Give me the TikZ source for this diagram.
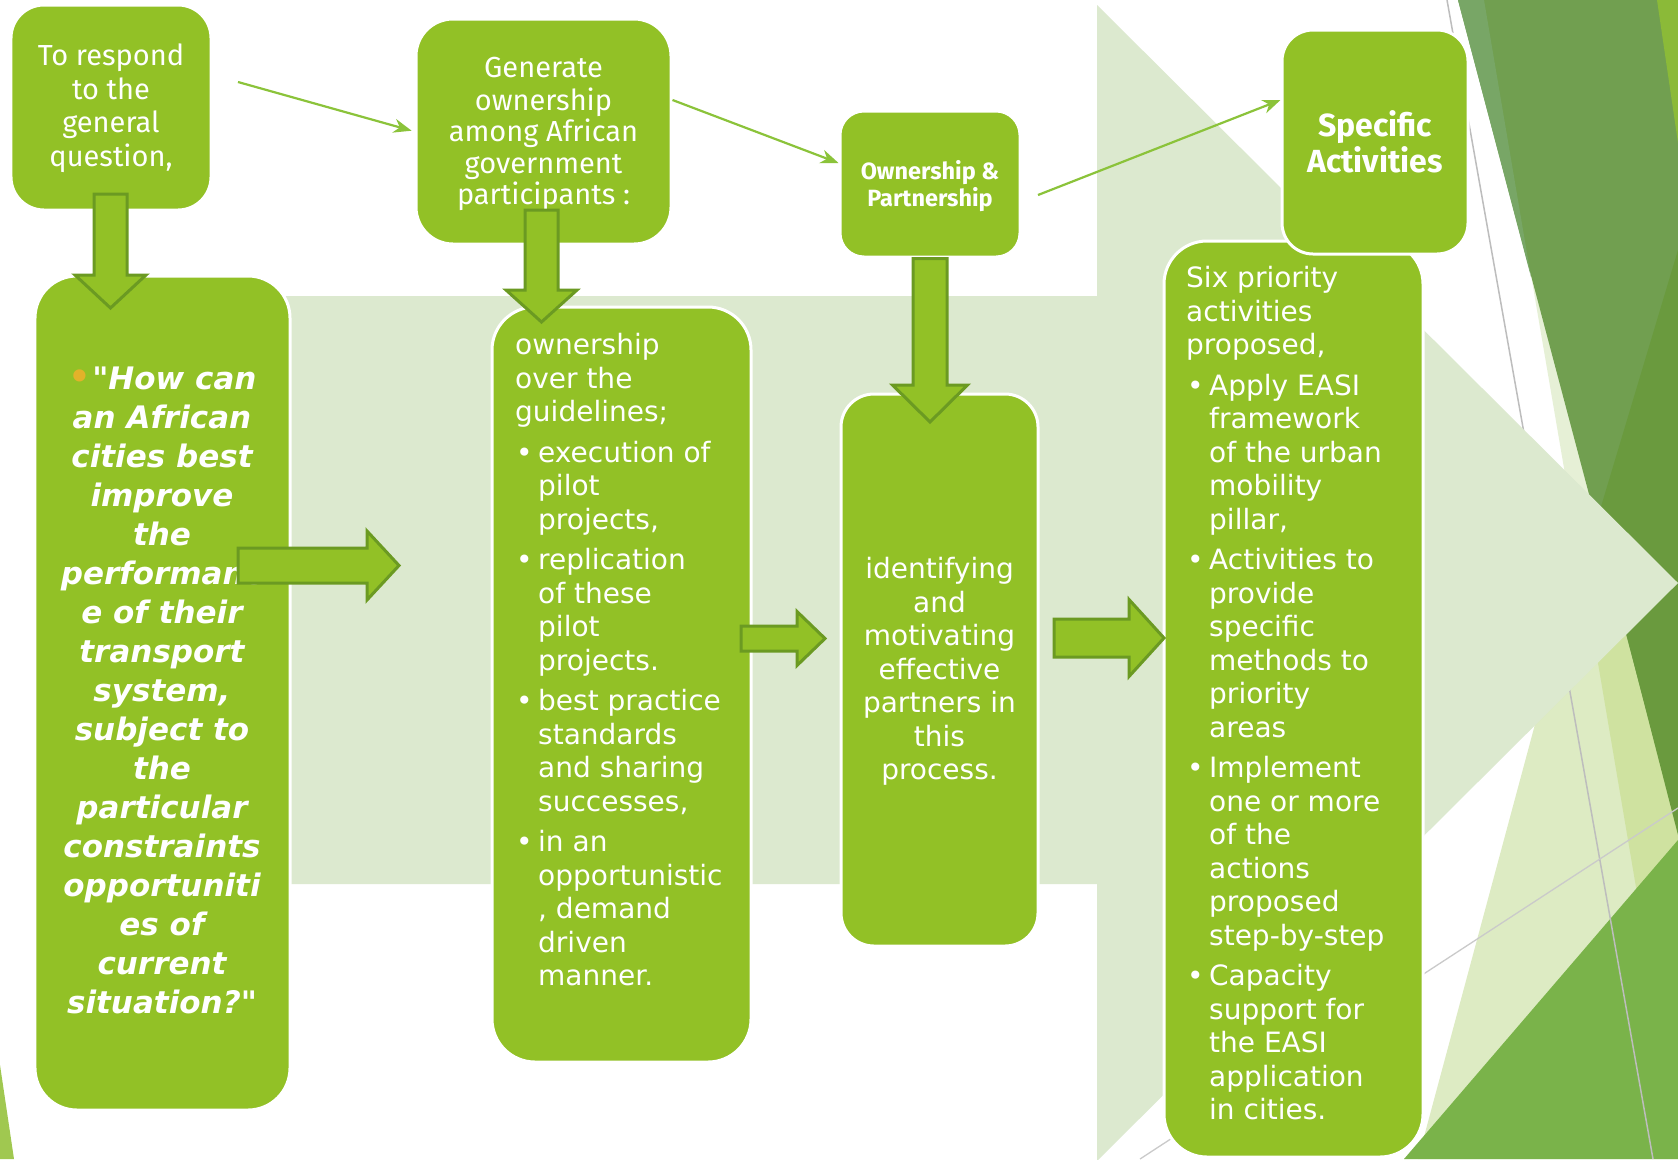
\documentclass[tikz,border=0pt]{standalone}
\usepackage{fontspec}
\newfontfamily\firafont{Fira Sans}
\newfontfamily\dejafont{DejaVu Sans}
\usetikzlibrary{calc,arrows.meta}
\definecolor{boxgreen}{HTML}{92C126}
\definecolor{arrowedge}{HTML}{6B9A22}
\definecolor{bglight}{HTML}{DCE9CF}
\definecolor{thingreen}{HTML}{8BC33A}
\definecolor{bulletorange}{HTML}{E2B22A}
\definecolor{olivegreen}{HTML}{719F50}
\definecolor{olivelight}{HTML}{78A666}
\definecolor{darkgreen}{HTML}{6A9A3E}
\definecolor{midgreen}{HTML}{7AB34A}
\definecolor{brightcorner}{HTML}{8BBA38}
\definecolor{paleA}{HTML}{E6F0D6}
\definecolor{paleB}{HTML}{DDEBC3}
\definecolor{paleC}{HTML}{CFE2A0}
\definecolor{wedgegreen}{HTML}{A0C850}
\definecolor{thingrey}{HTML}{BDBDBD}
\newcommand\vblockarrow[5]{%
  \draw[blockarrow] ($(#1)+(-#3,0)$) -- ($(#2)+(-#3,-#5)$) -- ($(#2)+(-#4,-#5)$) -- (#2)
    -- ($(#2)+(#4,-#5)$) -- ($(#2)+(#3,-#5)$) -- ($(#1)+(#3,0)$) -- cycle;}
\newcommand\hblockarrow[5]{%
  \draw[blockarrow] ($(#1)+(0,-#3)$) -- ($(#2)+(-#5,-#3)$) -- ($(#2)+(-#5,-#4)$) -- (#2)
    -- ($(#2)+(-#5,#4)$) -- ($(#2)+(-#5,#3)$) -- ($(#1)+(0,#3)$) -- cycle;}
\newcommand\bitem{\makebox[23bp][l]{\hspace*{1bp}•}}
\newcommand\bcont{\hspace*{23bp}}
\tikzset{
  card/.style={draw=white, line width=3bp, fill=boxgreen, inner sep=0pt},
  blockarrow/.style={fill=boxgreen, draw=arrowedge, line width=3bp, line join=miter},
  thinarrow/.style={draw=thingreen, line width=2.2bp, -{Stealth[length=18bp,width=14bp]}},
  toptext/.style={text=white, align=center, inner sep=0pt, font={\firafont\fontsize{29bp}{33.5bp}\selectfont}},
  topbold/.style={text=white, align=center, inner sep=0pt},
  lowtext/.style={text=white, inner sep=0pt, font={\dejafont\fontsize{28bp}{33.5bp}\selectfont}},
}
\begin{document}
\begin{tikzpicture}[x=1bp,y=-1bp]
\fill[white] (0,0) rectangle (1678,1159);
\useasboundingbox (0,0) rectangle (1678,1159);
\clip (0,0) rectangle (1678,1159);

% decorative facets
\fill[wedgegreen] (0,1065) -- (14,1159) -- (0,1159) -- cycle;
\fill[paleA] (1484,0) -- (1678,0) -- (1678,1135) -- cycle;
\fill[paleB] (1678,193) -- (1418,1159) -- (1678,1159) -- cycle;
\fill[paleC] (1678,193) -- (1580,557) -- (1678,1135) -- cycle;
\fill[olivegreen] (1458,0) -- (1678,0) -- (1678,830) -- cycle;
\fill[olivelight] (1458,0) -- (1484,0) -- (1531,277) -- cycle;
\fill[darkgreen] (1678,250) -- (1597,520) -- (1678,835) -- cycle;
\fill[brightcorner] (1657,0) -- (1678,0) -- (1678,143) -- cycle;
\fill[midgreen] (1678,840) -- (1404,1159) -- (1678,1159) -- cycle;
\draw[thingrey, line width=1.5bp] (1447,0) -- (1653,1159);
\draw[thingrey!80, line width=1.3bp] (1678,808) -- (1140,1159);

% big background arrow
\fill[bglight] (200,296) -- (1097,296) -- (1097,5) -- (1678,583) -- (1097,1161) -- (1097,884) -- (200,884) -- cycle;

% boxes
\node[card, minimum width=200bp, minimum height=205bp, rounded corners=33bp] (b1) at (111,107.5) {};
\node[card, minimum width=255bp, minimum height=225bp, rounded corners=37bp] (b2) at (543.5,131.5) {};
\node[card, minimum width=180bp, minimum height=146bp, rounded corners=24bp] (b3) at (930,184) {};
\node[card, minimum width=255bp, minimum height=834bp, rounded corners=42bp] (b5) at (162.5,693) {};
\node[card, minimum width=259bp, minimum height=755bp, rounded corners=43bp] (b6) at (621.5,684.5) {};
\node[card, minimum width=197bp, minimum height=552bp, rounded corners=33bp] (b7) at (939.5,670) {};
\node[card, minimum width=259bp, minimum height=916bp, rounded corners=43bp] (b8) at (1293.5,699) {};
\node[card, minimum width=186bp, minimum height=224bp, rounded corners=31bp] (b4) at (1375,142) {};

% texts
\node[toptext, anchor=north] (t1) at (111,42) {\strut To respond\\to the\\general\\question,};
\node[toptext, anchor=north, font={\firafont\fontsize{29bp}{31.4bp}\selectfont}] (t2) at (543.5,55) {\strut Generate\\ownership\\among African\\government\\participants :};
\node[topbold, anchor=north, font={\firafont\bfseries\fontsize{23.5bp}{24.6bp}\selectfont}] (t3) at (930,160) {\strut Ownership \&\\Partnership};
\node[topbold, anchor=north, font={\firafont\bfseries\fontsize{32bp}{32bp}\selectfont}] (t4) at (1375,110) {\strut Specific\\Activities};
\node[text=white, align=center, inner sep=0pt, anchor=north, font={\dejafont\bfseries\itshape\fontsize{31bp}{39bp}\selectfont}] (t5) at (162,362)
  {\strut{\color{bulletorange}\upshape\mdseries\fontsize{42bp}{39bp}\selectfont\raisebox{-2bp}{•}}"How can\\an African\\cities best\\improve\\the\\performanc\\e of their\\transport\\system,\\subject to\\the\\particular\\constraints\\opportuniti\\es of\\current\\situation?"};
\node[lowtext, align=left, anchor=north west] (t6) at (515,331)
  {\strut ownership\\over the\\guidelines;\\[7bp]
   \bitem execution of\\\bcont pilot\\\bcont projects,\\[7bp]
   \bitem replication\\\bcont of these\\\bcont pilot\\\bcont projects.\\[7bp]
   \bitem best practice\\\bcont standards\\\bcont and sharing\\\bcont successes,\\[7bp]
   \bitem in an\\\bcont opportunistic\\\bcont , demand\\\bcont driven\\\bcont manner.};
\node[lowtext, align=center, anchor=north] (t7) at (939.5,555)
  {\strut identifying\\and\\motivating\\effective\\partners in\\this\\process.};
\node[lowtext, align=left, anchor=north west] (t8) at (1186,264)
  {\strut Six priority\\activities\\proposed,\\[7bp]
   \bitem Apply EASI\\\bcont framework\\\bcont of the urban\\\bcont mobility\\\bcont pillar,\\[7bp]
   \bitem Activities to\\\bcont provide\\\bcont specific\\\bcont methods to\\\bcont priority\\\bcont areas\\[7bp]
   \bitem Implement\\\bcont one or more\\\bcont of the\\\bcont actions\\\bcont proposed\\\bcont step-by-step\\[7bp]
   \bitem Capacity\\\bcont support for\\\bcont the EASI\\\bcont application\\\bcont in cities.};

% block arrows
\coordinate (d1s) at (110.5,194);  \coordinate (d1e) at (110.5,308);
\coordinate (d2s) at (541.5,210);  \coordinate (d2e) at (541.5,322);
\coordinate (d3s) at (b3.south);   \coordinate (d3e) at (930,422);
\coordinate (r1s) at (238,565.5);  \coordinate (r1e) at (399,565.5);
\coordinate (r2s) at (741,638.5);  \coordinate (r2e) at (825,638.5);
\coordinate (r3s) at (1054,638);   \coordinate (r3e) at (1164,638);
\vblockarrow{d1s}{d1e}{16.5}{35.5}{33}
\vblockarrow{d2s}{d2e}{16.5}{35.5}{32}
\vblockarrow{d3s}{d3e}{17}{37.5}{37}
\hblockarrow{r1s}{r1e}{17.5}{34.5}{32}
\hblockarrow{r2s}{r2e}{12.5}{27}{28}
\hblockarrow{r3s}{r3e}{19}{38.5}{35}

% thin arrows
\coordinate (a1s) at (238,82);
\coordinate (a3s) at (1038,195);
\draw[thinarrow, shorten >=3bp] (a1s) -- (b2.west);
\draw[thinarrow] ($(b2.east)+(0,-31.5)$) -- ($(b3.west)+(0,-21)$);
\draw[thinarrow] (a3s) -- ($(b4.west)+(0,-42)$);
\end{tikzpicture}
\end{document}
